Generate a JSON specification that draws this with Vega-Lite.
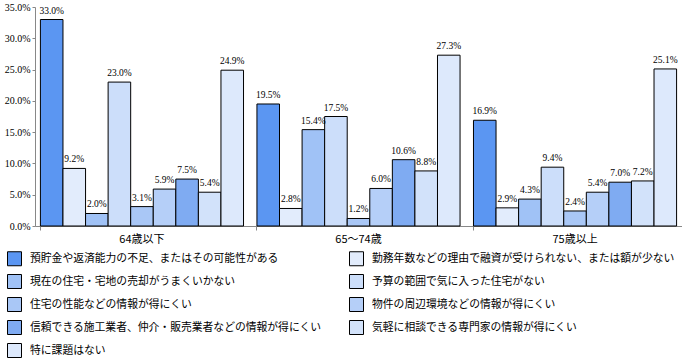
{
  "$schema": "https://vega.github.io/schema/vega-lite/v6.json",
  "width": 647,
  "height": 219,
  "padding": {"left": 4, "top": 2, "right": 0, "bottom": 0},
  "background": "white",
  "config": {
    "view": {"stroke": null},
    "font": "Noto Sans CJK JP"
  },
  "data": {
    "values": [
      {"group": "64歳以下", "item": "預貯金や返済能力の不足、またはその可能性がある", "value": 0.330},
      {"group": "64歳以下", "item": "勤務年数などの理由で融資が受けられない、または額が少ない", "value": 0.092},
      {"group": "64歳以下", "item": "現在の住宅・宅地の売却がうまくいかない", "value": 0.020},
      {"group": "64歳以下", "item": "予算の範囲で気に入った住宅がない", "value": 0.230},
      {"group": "64歳以下", "item": "住宅の性能などの情報が得にくい", "value": 0.031},
      {"group": "64歳以下", "item": "物件の周辺環境などの情報が得にくい", "value": 0.059},
      {"group": "64歳以下", "item": "信頼できる施工業者、仲介・販売業者などの情報が得にくい", "value": 0.075},
      {"group": "64歳以下", "item": "気軽に相談できる専門家の情報が得にくい", "value": 0.054},
      {"group": "64歳以下", "item": "特に課題はない", "value": 0.249},
      {"group": "65〜74歳", "item": "預貯金や返済能力の不足、またはその可能性がある", "value": 0.195},
      {"group": "65〜74歳", "item": "勤務年数などの理由で融資が受けられない、または額が少ない", "value": 0.028},
      {"group": "65〜74歳", "item": "現在の住宅・宅地の売却がうまくいかない", "value": 0.154},
      {"group": "65〜74歳", "item": "予算の範囲で気に入った住宅がない", "value": 0.175},
      {"group": "65〜74歳", "item": "住宅の性能などの情報が得にくい", "value": 0.012},
      {"group": "65〜74歳", "item": "物件の周辺環境などの情報が得にくい", "value": 0.060},
      {"group": "65〜74歳", "item": "信頼できる施工業者、仲介・販売業者などの情報が得にくい", "value": 0.106},
      {"group": "65〜74歳", "item": "気軽に相談できる専門家の情報が得にくい", "value": 0.088},
      {"group": "65〜74歳", "item": "特に課題はない", "value": 0.273},
      {"group": "75歳以上", "item": "預貯金や返済能力の不足、またはその可能性がある", "value": 0.169},
      {"group": "75歳以上", "item": "勤務年数などの理由で融資が受けられない、または額が少ない", "value": 0.029},
      {"group": "75歳以上", "item": "現在の住宅・宅地の売却がうまくいかない", "value": 0.043},
      {"group": "75歳以上", "item": "予算の範囲で気に入った住宅がない", "value": 0.094},
      {"group": "75歳以上", "item": "住宅の性能などの情報が得にくい", "value": 0.024},
      {"group": "75歳以上", "item": "物件の周辺環境などの情報が得にくい", "value": 0.054},
      {"group": "75歳以上", "item": "信頼できる施工業者、仲介・販売業者などの情報が得にくい", "value": 0.070},
      {"group": "75歳以上", "item": "気軽に相談できる専門家の情報が得にくい", "value": 0.072},
      {"group": "75歳以上", "item": "特に課題はない", "value": 0.251}
    ]
  },
  "encoding": {
    "x": {
      "field": "group", "type": "nominal", "sort": null,
      "scale": {"paddingInner": 0.062, "paddingOuter": 0.025},
      "axis": {
        "title": null, "labelAngle": 0, "labelFontSize": 11, "labelColor": "#000",
        "labelPadding": 3, "domainColor": "#888", "tickColor": "#888", "tickSize": 4,
        "bandPosition": 0, "labelFont": "Noto Sans CJK JP"
      }
    },
    "xOffset": {
      "field": "item", "type": "nominal", "sort": null,
      "scale": {"paddingInner": 0, "paddingOuter": 0}
    },
    "y": {
      "field": "value", "type": "quantitative",
      "scale": {"domain": [0, 0.35], "nice": false},
      "axis": {
        "title": null, "values": [0, 0.05, 0.1, 0.15, 0.2, 0.25, 0.3, 0.35],
        "format": ".1%",
        "grid": false, "labelFontSize": 10, "labelColor": "#000",
        "labelFont": "Liberation Serif",
        "domainColor": "#888", "tickColor": "#888", "tickSize": 3, "labelPadding": 2
      }
    }
  },
  "layer": [
    {
      "mark": {"type": "bar", "stroke": "#000", "strokeWidth": 1},
      "encoding": {
        "fill": {
          "field": "item", "type": "nominal", "sort": null,
          "scale": {
            "range": ["#5B96F2", "#E2ECFC", "#A0C2F6", "#CCDEFA", "#A9C7F6", "#B5CFF8", "#7FABF2", "#D2E2FA", "#DDE9FC"]
          },
          "legend": {
            "title": null, "orient": "none", "legendX": -28, "legendY": 244,
            "columns": 2, "direction": "horizontal", "symbolType": "square", "symbolSize": 196,
            "symbolStrokeColor": "#000", "symbolStrokeWidth": 1, "symbolOpacity": 1,
            "labelFontSize": 10.8, "labelColor": "#000", "labelLimit": 400,
            "rowPadding": 4, "columnPadding": 14, "labelOffset": 8, "gridAlign": "all"
          }
        }
      }
    },
    {
      "mark": {"type": "text", "baseline": "bottom", "dy": -4, "fontSize": 9.5, "font": "Liberation Serif", "color": "#000"},
      "encoding": {
        "text": {"field": "value", "type": "quantitative", "format": ".1%"},
        "detail": {"field": "item"}
      }
    }
  ]
}
